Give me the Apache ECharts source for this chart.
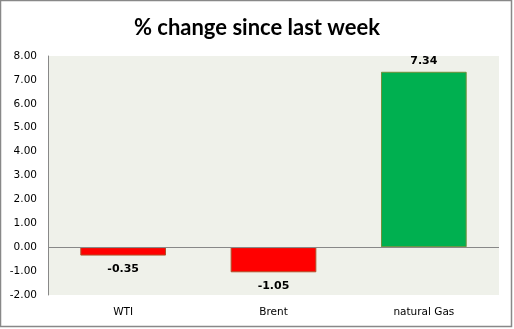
<!DOCTYPE html>
<html><head><meta charset="utf-8">
<script src="https://cdn.jsdelivr.net/npm/echarts@6/dist/echarts.min.js"></script>
<style>html,body{margin:0;padding:0;background:#fff}#c{width:514px;height:329px}</style>
</head><body><div id="c"></div>
<script>
const categories = ['WTI', 'Brent', 'natural Gas'];
const values = [-0.35, -1.05, 7.34];
const barColors = ['#FF0000', '#FF0000', '#00B050'];
const barBorders = ['#B0502A', '#B0502A', '#70903A'];
const yMin = -2, yMax = 8, yInterval = 1;

const chart = echarts.init(document.getElementById('c'));
chart.setOption({
  animation: false,
  title: {
    text: '% change since last week', left: 'center', top: 12,
    textStyle: { fontFamily: 'Lato', fontWeight: 'bold', fontSize: 22, color: '#000' }
  },
  graphic: [{
    type: 'rect', shape: { x: 0.5, y: 0.5, width: 511, height: 326 },
    style: { fill: 'none', stroke: '#888', lineWidth: 1.5 }, z: -1
  }],
  grid: { left: 48, right: 15, top: 56, bottom: 34, show: true, backgroundColor: '#EFF1EA', borderWidth: 0 },
  xAxis: {
    type: 'category', data: categories,
    axisLine: { show: false, onZero: false }, axisTick: { show: false },
    axisLabel: { fontFamily: 'DejaVu Sans', fontSize: 10.5, color: '#000', margin: 12 }
  },
  yAxis: {
    type: 'value', min: yMin, max: yMax, interval: yInterval,
    axisLine: { show: true, lineStyle: { color: '#888' } }, axisTick: { show: false },
    splitLine: { show: false },
    axisLabel: { fontFamily: 'DejaVu Sans', fontSize: 10.5, color: '#000', margin: 11,
      formatter: v => v.toFixed(2) }
  },
  series: [{
    type: 'bar', barWidth: '57%',
    data: values.map((v, i) => ({
      value: v,
      itemStyle: { color: barColors[i], borderColor: barBorders[i], borderWidth: 1 },
      label: { position: v < 0 ? 'bottom' : 'top', distance: v < 0 ? 8 : 5 }
    })),
    label: { show: true, fontFamily: 'DejaVu Sans', fontWeight: 'bold', fontSize: 11, color: '#000',
      formatter: p => p.value.toFixed(2) },
    markLine: {
      silent: true, symbol: 'none', label: { show: false },
      lineStyle: { color: '#888', type: 'solid', width: 1 },
      data: [{ yAxis: 0 }]
    }
  }]
});
</script></body></html>
